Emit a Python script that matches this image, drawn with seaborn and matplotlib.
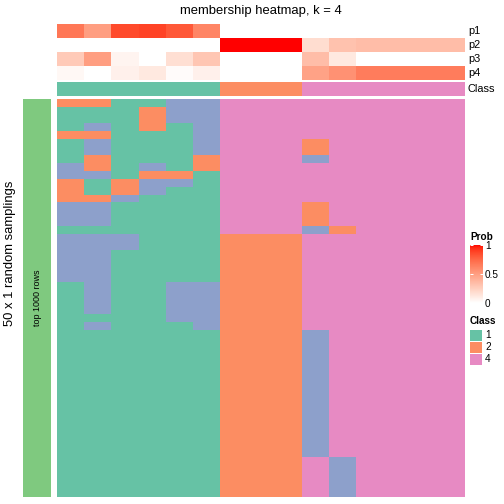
import numpy as np
import pandas as pd
import matplotlib
matplotlib.use("Agg")
import matplotlib.pyplot as plt
from matplotlib.colors import ListedColormap
from matplotlib.cm import ScalarMappable
from matplotlib.colors import Normalize
from matplotlib.patches import Rectangle
import seaborn as sns

# ---------------- data ----------------
title = "membership heatmap, k = 4"
prob_rows = ["p1", "p2", "p3", "p4"]
p1 = [0.68, 0.50, 0.86, 0.88, 0.81, 0.62, 0, 0, 0, 0, 0, 0, 0, 0, 0]
p2 = [0, 0, 0, 0, 0, 0, 1, 1, 1, 0.18, 0.32, 0.34, 0.34, 0.34, 0.34]
p3 = [0.28, 0.50, 0.06, 0, 0.17, 0.30, 0, 0, 0, 0.34, 0.12, 0, 0, 0, 0]
p4 = [0.04, 0, 0.08, 0.12, 0.02, 0.08, 0, 0, 0, 0.48, 0.56, 0.66, 0.66, 0.66, 0.66]
consensus_class = [1, 1, 1, 1, 1, 1, 2, 2, 2, 4, 4, 4, 4, 4, 4]
legend_classes = ["1", "2", "4"]
# class label of every sample (column) in each of 50 random samplings (rows)
sampling_rows = (
    ["221133444444444",
     "111233444444444",
     "111233444444444",
     "131213444444444",
     "221113444444444",
     "131113444244444",
     "131113444244444",
     "121112444344444",
     "321312444444444",
     "331221444444444",
     "212331444444444",
     "212311444444444",
     "223111444444444",
     "331111444244444",
     "331111444244444",
     "331111444244444",
     "111111444324444",
     "333111222444444",
     "333111222444444"]
    + ["331111222444444"] * 4
    + ["131133222444444"] * 4
    + ["111133222444444",
       "131113222444444"]
    + ["111111222344444"] * 16
    + ["111111222434444"] * 5
)
row_group_label = "top 1000 rows"
side_label = "50 x 1 random samplings"

# ---------------- styling ----------------
class_colors = {1: "#66C2A5", 2: "#FC8D62", 3: "#8DA0CB", 4: "#E78AC3"}
group_color = "#7FC97F"

M = np.array([[0.4124, 0.3576, 0.1805],
              [0.2126, 0.7152, 0.0722],
              [0.0193, 0.1192, 0.9505]])
WP = np.array([0.95047, 1.0, 1.08883])


def srgb_to_lab(rgb):
    rgb = np.asarray(rgb, float)
    lin = np.where(rgb <= 0.04045, rgb / 12.92, ((rgb + 0.055) / 1.055) ** 2.4)
    t = (M @ lin) / WP
    d = 6 / 29
    f = np.where(t > d ** 3, np.cbrt(t), t / (3 * d * d) + 4 / 29)
    return np.array([116 * f[1] - 16, 500 * (f[0] - f[1]), 200 * (f[1] - f[2])])


def lab_to_srgb(lab):
    L, a, b = lab
    fy = (L + 16) / 116
    f = np.array([fy + a / 500, fy, fy - b / 200])
    d = 6 / 29
    t = np.where(f > d, f ** 3, 3 * d * d * (f - 4 / 29))
    lin = np.clip(np.linalg.inv(M) @ (t * WP), 0, 1)
    s = np.where(lin <= 0.0031308, 12.92 * lin, 1.055 * lin ** (1 / 2.4) - 0.055)
    return np.clip(s, 0, 1)


lw, lr = srgb_to_lab([1, 1, 1]), srgb_to_lab([1, 0, 0])
prob_cmap = ListedColormap([lab_to_srgb(lw + (lr - lw) * t) for t in np.linspace(0, 1, 256)])
class_cmap = ListedColormap([class_colors[i] for i in (1, 2, 3, 4)])

FONT = "Liberation Sans"
plt.rcParams["font.family"] = [FONT, "DejaVu Sans"]

W = H = 504
fig = plt.figure(figsize=(7, 7), dpi=72)


def px_axes(x0, y0, x1, y1):
    return fig.add_axes([x0 / W, 1 - y1 / H, (x1 - x0) / W, (y1 - y0) / H])


X0, X1 = 57, 465

# probability annotation
prob_df = pd.DataFrame([p1, p2, p3, p4], index=prob_rows)
ax_p = px_axes(X0, 24, X1, 80)
sns.heatmap(prob_df, cmap=prob_cmap, vmin=0, vmax=1, cbar=False,
            xticklabels=False, yticklabels=False, ax=ax_p)
ax_p.set_xlabel(""); ax_p.set_ylabel("")

# class annotation
ax_c = px_axes(X0, 82, X1, 96)
sns.heatmap(pd.DataFrame([consensus_class], index=["Class"]), cmap=class_cmap,
            vmin=0.5, vmax=4.5, cbar=False, xticklabels=False, yticklabels=False, ax=ax_c)
ax_c.set_xlabel(""); ax_c.set_ylabel("")

for i, lab in enumerate(prob_rows + ["Class"]):
    yc = [31, 45, 59, 73, 89][i]
    fig.text(468 / W, 1 - yc / H, lab, fontsize=11, ha="left", va="center")

# main heatmap
main = np.array([[int(c) for c in r] for r in sampling_rows])
ax_m = px_axes(X0, 99, X1, 497)
sns.heatmap(pd.DataFrame(main), cmap=class_cmap, vmin=0.5, vmax=4.5, cbar=False,
            xticklabels=False, yticklabels=False, ax=ax_m)
ax_m.set_xlabel(""); ax_m.set_ylabel("")

# row group bar
ax_g = px_axes(23, 99, 51, 497)
ax_g.set_xlim(0, 1); ax_g.set_ylim(0, 1)
ax_g.add_patch(Rectangle((0, 0), 1, 1, color=group_color, lw=0))
ax_g.axis("off")
ax_g.text(0.5, 0.5, row_group_label, rotation=90, ha="center", va="center", fontsize=9)

fig.text(10 / W, 1 - 253 / H, side_label, rotation=90, ha="center", va="center", fontsize=13)
fig.text(261 / W, 1 - 11 / H, title, ha="center", va="center", fontsize=13)

# Prob legend
fig.text(470 / W, 1 - 237 / H, "Prob", fontsize=10, fontweight="bold", ha="left", va="center")
cax = px_axes(470, 245, 483, 303)
cb = fig.colorbar(ScalarMappable(norm=Normalize(0, 1), cmap=prob_cmap), cax=cax, ticks=[0, 0.5, 1])
cb.outline.set_visible(False)
cax.yaxis.set_ticks_position("both")
cax.tick_params(axis="y", direction="in", length=3, width=1, color="white",
                labelleft=False, labelright=True, labelsize=10, pad=2)
cax.set_yticklabels(["0", "0.5", "1"])

# Class legend
fig.text(470 / W, 1 - 321 / H, "Class", fontsize=10, fontweight="bold", ha="left", va="center")
for i, lab in enumerate(legend_classes):
    yt = 330 + 12 * i
    fig.patches.append(Rectangle((470 / W, 1 - (yt + 11) / H), 12 / W, 11 / H,
                                 transform=fig.transFigure, color=class_colors[int(lab)], lw=0))
    fig.text(485 / W, 1 - (yt + 5.5) / H, lab, fontsize=10, ha="left", va="center")

fig.savefig("out.png", dpi=72)
